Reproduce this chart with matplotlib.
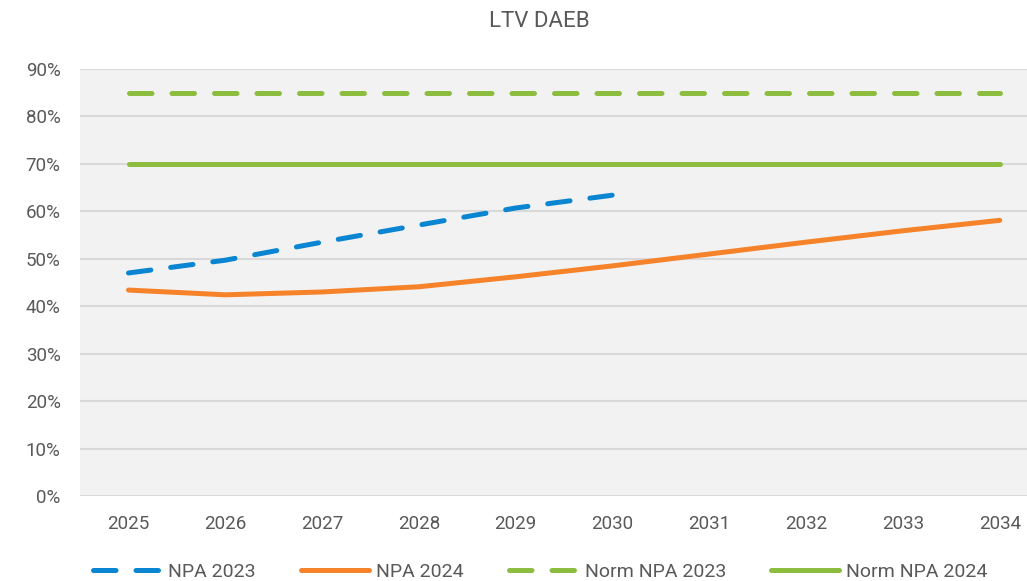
import matplotlib.pyplot as plt
from matplotlib.ticker import FuncFormatter

plt.rcParams['font.family'] = ['Liberation Sans Narrow', 'Roboto', 'DejaVu Sans']

years = ['2025', '2026', '2027', '2028', '2029', '2030', '2031', '2032', '2033', '2034']
npa_2023 = [0.470, 0.497, 0.535, 0.571, 0.607, 0.634]
npa_2024 = [0.434, 0.424, 0.430, 0.441, 0.462, 0.485, 0.510, 0.535, 0.559, 0.581]
norm_2023 = [0.85] * 10
norm_2024 = [0.70] * 10

blue = '#0a85d1'
orange = '#f6822a'
green = '#8cbd3f'
text_col = '#595959'

fig = plt.figure(figsize=(10.27, 5.81), dpi=100)
ax = fig.add_axes([0.078, 0.1463, 0.9426, 0.735])
ax.set_facecolor('#f2f2f2')

x = list(range(len(years)))
ax.plot(x[:len(npa_2023)], npa_2023, color=blue, lw=3.6, dashes=(4.5, 4), dash_capstyle='round', label='NPA 2023')
ax.plot(x, npa_2024, color=orange, lw=3.6, solid_capstyle='round', label='NPA 2024')
ax.plot(x, norm_2023, color=green, lw=3.6, dashes=(4.5, 4), dash_capstyle='round', label='Norm NPA 2023')
ax.plot(x, norm_2024, color=green, lw=3.6, solid_capstyle='round', label='Norm NPA 2024')

ax.set_xlim(-0.5, 9.5)
ax.set_ylim(0, 0.9)
ax.set_yticks([i / 10 for i in range(10)])
ax.yaxis.set_major_formatter(FuncFormatter(lambda v, p: f'{v*100:.0f}%'))
ax.set_xticks(x)
ax.set_xticklabels(years)
ax.tick_params(length=0, labelsize=13.5, colors=text_col)
ax.tick_params(axis='y', pad=14)
ax.tick_params(axis='x', pad=14)
ax.grid(axis='y', color='#d9d9d9', lw=1.5)
ax.set_axisbelow(True)
for s in ax.spines.values():
    s.set_visible(False)

fig.text(0.525, 0.963, 'LTV DAEB', ha='center', va='center', fontsize=16, color=text_col)

fig.legend(loc='center', bbox_to_anchor=(0.526, 0.016), ncol=4, frameon=False,
           fontsize=14, labelcolor=text_col, handlelength=3.5, columnspacing=2.3, handletextpad=0.4)

fig.savefig('out.png', dpi=100)
